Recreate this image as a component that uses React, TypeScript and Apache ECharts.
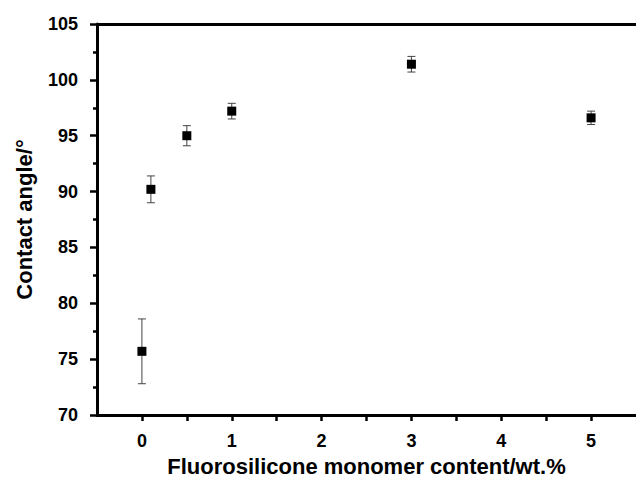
import React, { useEffect, useRef } from "react";
import * as echarts from "echarts";

const xValues = [0, 0.1, 0.5, 1, 3, 5];
const angles = [75.7, 90.2, 95.0, 97.2, 101.4, 96.6];
const errors = [2.9, 1.2, 0.9, 0.7, 0.7, 0.6];

const xTitle = "Fluorosilicone monomer content/wt.%";
const yTitle = "Contact angle/°";

function makeOption() {
  const points = xValues.map((x, i) => [x, angles[i]]);
  const bars = xValues.map((x, i) => [x, angles[i] - errors[i], angles[i] + errors[i]]);
  const lineStyle = { color: "#000", width: 3 };
  const tickStyle = { color: "#000", width: 2.5 };
  const mainX: any = {
    type: "value",
    min: -0.5,
    max: 5.5,
    interval: 0.5,
    splitLine: { show: false },
    axisLine: { show: true, onZero: false, lineStyle },
    axisTick: { show: true, length: 6, lineStyle: tickStyle },
    axisLabel: {
      margin: 17,
      fontSize: 18,
      fontWeight: "bold",
      color: "#000",
      showMinLabel: false,
      showMaxLabel: false,
      formatter: (v: number) => (Number.isInteger(v) ? String(v) : ""),
    },
    name: xTitle,
    nameLocation: "middle",
    nameGap: 40,
    nameTextStyle: { fontSize: 22, fontWeight: "bold", color: "#000" },
  };
  const topX: any = {
    type: "value",
    min: -0.5,
    max: 5.5,
    position: "top",
    splitLine: { show: false },
    axisLine: { show: true, onZero: false, lineStyle },
    axisTick: { show: false },
    axisLabel: { show: false },
  };
  const yAxis: any = {
    type: "value",
    min: 70,
    max: 105,
    interval: 5,
    splitLine: { show: false },
    axisLine: { show: true, onZero: false, lineStyle },
    axisTick: { show: true, length: 7, lineStyle: tickStyle },
    minorTick: { show: true, splitNumber: 2, length: 4, lineStyle: tickStyle },
    axisLabel: { margin: 19, fontSize: 18, fontWeight: "bold", color: "#000" },
    name: yTitle,
    nameLocation: "middle",
    nameGap: 62,
    nameTextStyle: { fontSize: 22, fontWeight: "bold", color: "#000" },
  };
  const series: any[] = [
    {
      type: "custom",
      data: bars,
      encode: { x: 0, y: [1, 2] },
      renderItem: (params: any, api: any) => {
        const x = api.value(0);
        const lo = api.coord([x, api.value(1)]);
        const hi = api.coord([x, api.value(2)]);
        const cap = 4;
        const style = { stroke: "#444", lineWidth: 1 };
        return {
          type: "group",
          children: [
            { type: "line", shape: { x1: lo[0], y1: lo[1], x2: hi[0], y2: hi[1] }, style },
            { type: "line", shape: { x1: lo[0] - cap, y1: lo[1], x2: lo[0] + cap, y2: lo[1] }, style },
            { type: "line", shape: { x1: hi[0] - cap, y1: hi[1], x2: hi[0] + cap, y2: hi[1] }, style },
          ],
        };
      },
    },
    {
      type: "scatter",
      data: points,
      symbol: "rect",
      symbolSize: 9,
      itemStyle: { color: "#000", opacity: 1 },
    },
  ];
  return {
    animation: false,
    grid: { left: 97, right: 0, top: 24, bottom: 64 },
    xAxis: [mainX, topX],
    yAxis,
    series,
  };
}

export default function App() {
  const ref = useRef<HTMLDivElement>(null);
  useEffect(() => {
    if (!ref.current) return;
    const chart = echarts.init(ref.current, null, { renderer: "svg" });
    chart.setOption(makeOption());
    return () => chart.dispose();
  }, []);
  return (
    <div style={{ position: "absolute", left: 0, top: 0, width: 636, lineHeight: 0 }}>
      <div ref={ref} style={{ width: 636, height: 482, display: "inline-block" }} />
    </div>
  );
}
